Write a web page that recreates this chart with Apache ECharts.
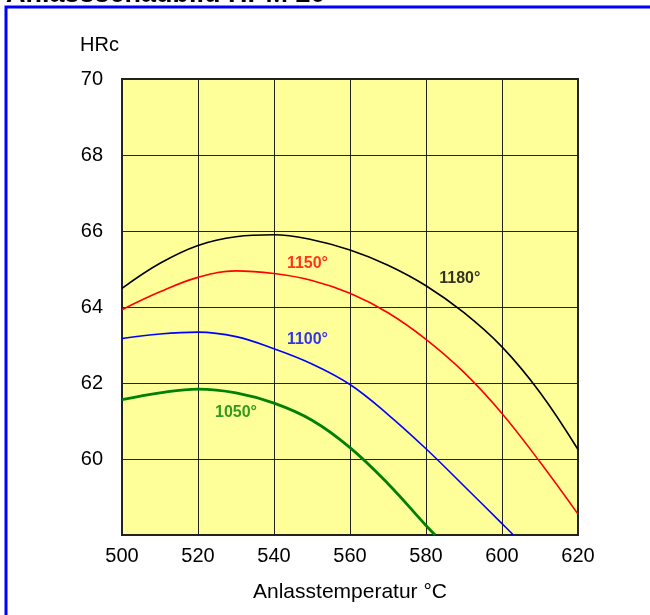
<!DOCTYPE html>
<html>
<head>
<meta charset="utf-8">
<script src="https://cdn.jsdelivr.net/npm/echarts@6/dist/echarts.min.js"></script>
<style>html,body{margin:0;padding:0;background:#fff;}#c{width:650px;height:615px;}</style>
</head>
<body>
<div id="c"></div>
<script>
const titleText = 'Anlassschaubild HPM 20';
const xName = 'Anlasstemperatur °C';
const yName = 'HRc';
const xTicks = [500, 520, 540, 560, 580, 600, 620];
const yTicks = [60, 62, 64, 66, 68, 70];

const t1180 = [500, 510, 520, 530, 540, 550, 560, 570, 580, 590, 600, 610, 620];
const h1180 = [64.49, 65.15, 65.62, 65.85, 65.9, 65.77, 65.5, 65.1, 64.56, 63.85, 62.95, 61.75, 60.25];
const t1150 = [500, 510, 520, 530, 540, 550, 560, 570, 580, 590, 600, 610, 620];
const h1150 = [63.93, 64.4, 64.78, 64.95, 64.88, 64.7, 64.36, 63.85, 63.15, 62.28, 61.2, 59.92, 58.55];
const t1100 = [500, 510, 520, 530, 540, 550, 560, 570, 580, 590, 600, 603];
const h1100 = [63.17, 63.29, 63.34, 63.22, 62.9, 62.5, 61.96, 61.17, 60.27, 59.29, 58.3, 58.0];
const t1050 = [500, 510, 520, 530, 540, 550, 560, 570, 580, 582.4];
const h1050 = [61.56, 61.74, 61.84, 61.74, 61.47, 61.02, 60.3, 59.35, 58.25, 58.0];

const curveNames = ['1180°', '1150°', '1100°', '1050°'];
const curveColors = ['#000000', '#ff0000', '#0000ff', '#008000'];
const curveWidths = [1.6, 1.6, 1.6, 2.8];
const labelT = [588.9, 548.8, 548.8, 530];
const labelH = [64.75, 65.15, 63.14, 61.21];

const pairs = (xs, ys) => xs.map((x, i) => [x, ys[i]]);
const curves = [pairs(t1180, h1180), pairs(t1150, h1150), pairs(t1100, h1100), pairs(t1050, h1050)];

const FONT = '"Liberation Sans", Arial, sans-serif';
const chart = echarts.init(document.getElementById('c'), null, {renderer: 'canvas'});

const series = curves.map((d, i) => ({
  type: 'line', name: curveNames[i], data: d, smooth: 0.4, symbol: 'none',
  lineStyle: {color: curveColors[i], width: curveWidths[i]}, z: 3
}));
series.push({
  type: 'scatter', symbolSize: 0, z: 4,
  data: curveNames.map((n, i) => ({value: [labelT[i], labelH[i]], name: n,
    label: {color: curveColors[i]}})),
  label: {show: true, position: 'inside', formatter: p => p.name,
    fontFamily: FONT, fontWeight: 'bold', fontSize: 16}
});

chart.setOption({
  animation: false,
  backgroundColor: '#ffffff',
  grid: {left: 122, top: 79, right: 72, bottom: 80, show: true,
    backgroundColor: '#ffff99', borderColor: '#222222', borderWidth: 2},
  xAxis: {type: 'value', min: xTicks[0], max: xTicks[xTicks.length - 1], interval: 20,
    axisLine: {show: false}, axisTick: {show: false},
    splitLine: {show: true, lineStyle: {color: '#222222', width: 1}},
    axisLabel: {margin: 11, fontSize: 20, color: '#000', fontFamily: FONT}},
  yAxis: {type: 'value', min: 58, max: yTicks[yTicks.length - 1], interval: 2,
    axisLine: {show: false}, axisTick: {show: false},
    splitLine: {show: true, lineStyle: {color: '#222222', width: 1}},
    axisLabel: {margin: 19, fontSize: 20, color: '#000', fontFamily: FONT,
      formatter: v => (yTicks.indexOf(v) >= 0 ? String(v) : '')}},
  graphic: [
    {type: 'rect', shape: {x: 6, y: 7, width: 700, height: 700},
      style: {fill: null, stroke: '#0000ff', lineWidth: 3}, silent: true},
    {type: 'text', left: 6, top: -19,
      style: {text: titleText, font: 'bold 27px ' + FONT, fill: '#000'}},
    {type: 'text', left: 80, top: 35,
      style: {text: yName, font: '20px ' + FONT, fill: '#000'}},
    {type: 'text', x: 350, y: 592,
      style: {text: xName, font: '21px ' + FONT, fill: '#000', align: 'center', verticalAlign: 'middle'}}
  ],
  series: series
});
</script>
</body>
</html>
